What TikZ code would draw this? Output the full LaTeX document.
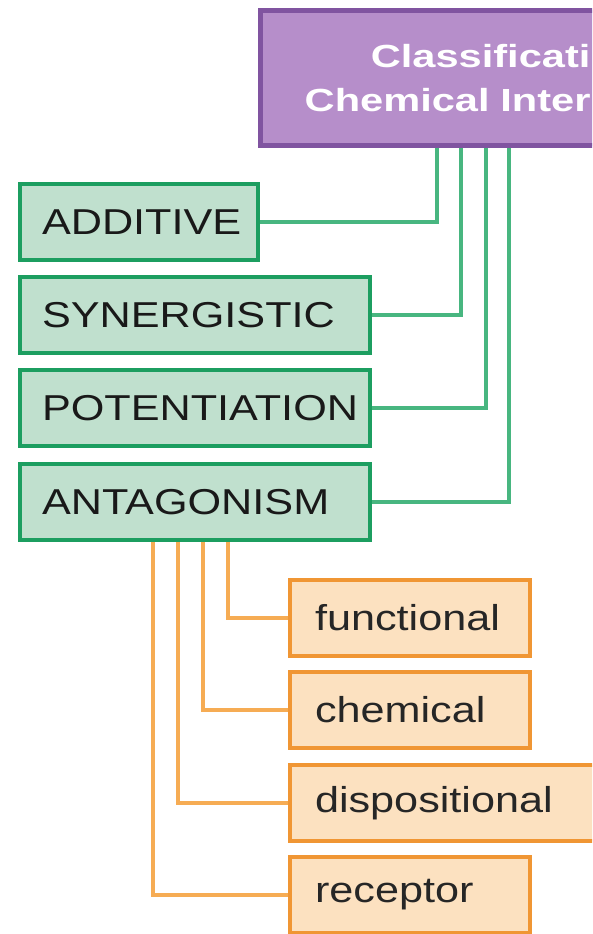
\documentclass[tikz,border=0pt]{standalone}
\usepackage{fontspec}
\newfontfamily\boxfont[FakeStretch=1.2]{Liberation Sans}
\newfontfamily\headfont[FakeStretch=1.3]{Liberation Sans Bold}
\definecolor{classfill}{RGB}{182,142,202}
\definecolor{classline}{RGB}{128,84,160}
\definecolor{kindfill}{RGB}{192,224,206}
\definecolor{kindline}{RGB}{28,158,96}
\definecolor{kindwire}{RGB}{72,182,128}
\definecolor{subfill}{RGB}{252,225,192}
\definecolor{subline}{RGB}{240,150,52}
\definecolor{subwire}{RGB}{246,172,84}
\begin{document}
\begin{tikzpicture}[x=1pt,y=-1pt,
    classbox/.style={draw=classline, fill=classfill, line width=5pt,
      minimum height=135pt, text width=322pt, inner xsep=8pt, align=right,
      text=white, font=\headfont\fontsize{32}{44}\selectfont},
    kindbox/.style={draw=kindline, fill=kindfill, line width=4pt,
      minimum height=76pt, inner xsep=22pt, text width=306pt, align=left,
      text=black!90, font=\boxfont\fontsize{36}{40}\selectfont},
    subbox/.style={draw=subline, fill=subfill, line width=4pt,
      minimum height=76pt, inner xsep=25pt, text width=190pt, align=left,
      text=black!85, font=\boxfont\fontsize{36}{40}\selectfont},
    kindlink/.style={draw=kindwire, line width=4pt},
    sublink/.style={draw=subwire, line width=4pt}]
  \useasboundingbox (0,0) rectangle (592,934);
  \clip (0,0) rectangle (592,934);
  % Top box
  \node[classbox, anchor=north west] (class) at (258,8) {Classificati\\Chemical Inter};
  % Kinds of interaction
  \node[kindbox, anchor=west, text width=194pt] (add) at (18,222) {ADDITIVE};
  \node[kindbox, anchor=west] (syn) at (18,315) {SYNERGISTIC};
  \node[kindbox, anchor=west] (pot) at (18,408) {POTENTIATION};
  \node[kindbox, anchor=west] (ant) at (18,502) {ANTAGONISM};
  % Kinds of antagonism
  \node[subbox, anchor=west] (fun) at (288,618) {functional};
  \node[subbox, anchor=west] (chem) at (288,710) {chemical};
  \node[subbox, anchor=west, text width=262pt] (disp) at (288,803) {dispositional};
  \node[subbox, anchor=west] (rec) at (288,895) {receptor};
  % Green links
  \draw[kindlink] (add.east) -| ([xshift=179pt]class.south west);
  \draw[kindlink] (syn.east) -| ([xshift=203pt]class.south west);
  \draw[kindlink] (pot.east) -| ([xshift=228pt]class.south west);
  \draw[kindlink] (ant.east) -| ([xshift=251pt]class.south west);
  % Orange links
  \draw[sublink] (ant.south west) ++(210,0) |- (fun.west);
  \draw[sublink] (ant.south west) ++(185,0) |- (chem.west);
  \draw[sublink] (ant.south west) ++(160,0) |- (disp.west);
  \draw[sublink] (ant.south west) ++(135,0) |- (rec.west);
\end{tikzpicture}
\end{document}
